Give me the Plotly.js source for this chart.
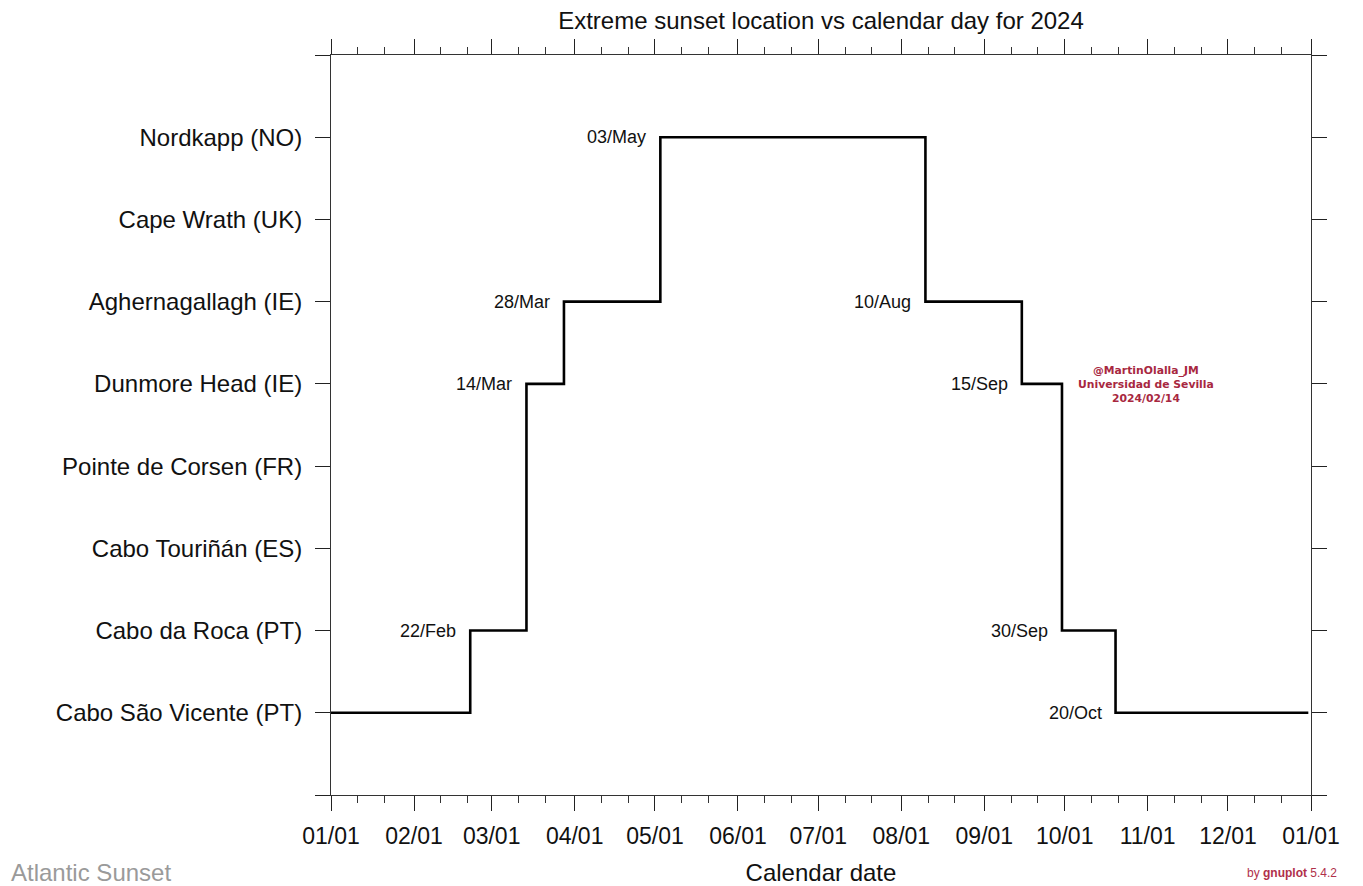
<!DOCTYPE html>
<html>
<head>
<meta charset="utf-8">
<script src="https://cdn.plot.ly/plotly-3.0.1.min.js"></script>
<style>html,body{margin:0;padding:0;background:#fff;}#chart{width:1363px;height:886px;}</style>
</head>
<body>
<div id="chart"></div>
<script>
// Locations (y categories, bottom to top)
var locations = ["Cabo São Vicente (PT)", "Cabo da Roca (PT)", "Cabo Touriñán (ES)", "Pointe de Corsen (FR)",
                 "Dunmore Head (IE)", "Aghernagallagh (IE)", "Cape Wrath (UK)", "Nordkapp (NO)"];
// Step series: date where the extreme location changes, and the new location index
var stepDates  = ["2024-01-01", "2024-02-22", "2024-03-14", "2024-03-28", "2024-05-03",
                  "2024-08-10", "2024-09-15", "2024-09-30", "2024-10-20", "2024-12-31"];
var stepLevels = [0, 1, 4, 5, 7, 5, 4, 1, 0, 0];
var stepLabels = ["", "22/Feb", "14/Mar", "28/Mar", "03/May", "10/Aug", "15/Sep", "30/Sep", "20/Oct", ""];
// X axis ticks
var monthTicks = ["2024-01-01","2024-02-01","2024-03-01","2024-04-01","2024-05-01","2024-06-01","2024-07-01",
                  "2024-08-01","2024-09-01","2024-10-01","2024-11-01","2024-12-01","2025-01-01"];
var monthLabels = ["01/01","02/01","03/01","04/01","05/01","06/01","07/01","08/01","09/01","10/01","11/01","12/01","01/01"];
var minorTicks = ["2024-01-11","2024-01-21","2024-02-11","2024-02-21","2024-03-11","2024-03-21","2024-04-11","2024-04-21",
                  "2024-05-11","2024-05-21","2024-06-11","2024-06-21","2024-07-11","2024-07-21","2024-08-11","2024-08-21",
                  "2024-09-11","2024-09-21","2024-10-11","2024-10-21","2024-11-11","2024-11-21","2024-12-11","2024-12-21"];

var FONT = "Liberation Sans, Arial, Helvetica, sans-serif";

var yTickVals = [-1];
var yTickText = [""];
for (var i = 0; i < locations.length; i++) { yTickVals.push(i); yTickText.push(locations[i]); }
yTickVals.push(locations.length); yTickText.push("");

var trace = {
  x: stepDates, y: stepLevels, type: "scatter", mode: "lines",
  line: {shape: "hv", color: "#000", width: 2.6},
  hoverinfo: "skip", showlegend: false
};

var annotations = [];
for (var k = 0; k < stepDates.length; k++) {
  if (!stepLabels[k]) continue;
  annotations.push({
    x: stepDates[k], y: stepLevels[k], xref: "x", yref: "y",
    text: stepLabels[k], showarrow: false, xanchor: "right", yanchor: "middle",
    xshift: -12, font: {family: FONT, size: 18, color: "#111"}
  });
}
annotations.push({
  xref: "paper", yref: "paper", x: 0.8316, y: 0.555, xanchor: "center", yanchor: "middle",
  text: "@MartinOlalla_JM<br>Universidad de Sevilla<br>2024/02/14", showarrow: false,
  font: {family: "DejaVu Sans, sans-serif", size: 10.8, color: "#a8283f", weight: "bold"}
});
annotations.push({
  xref: "paper", yref: "paper", x: -0.3286, y: -0.1054, xanchor: "left", yanchor: "middle",
  text: "Atlantic Sunset", showarrow: false, font: {family: FONT, size: 24, color: "#9a9a9a"}
});
annotations.push({
  xref: "paper", yref: "paper", x: 1.0286, y: -0.1054, xanchor: "right", yanchor: "middle",
  text: "by <b>gnuplot</b> 5.4.2", showarrow: false, font: {family: FONT, size: 12, color: "#b0304a"}
});

var layout = {
  width: 1363, height: 886,
  margin: {l: 331, r: 52, t: 55, b: 91, pad: 0},
  paper_bgcolor: "#fff", plot_bgcolor: "#fff",
  font: {family: FONT, color: "#111"},
  title: {text: "Extreme sunset location vs calendar day for 2024", xref: "paper", x: 0.5, xanchor: "center",
          yref: "container", y: 0.977, yanchor: "middle", font: {family: FONT, size: 24, color: "#111"}},
  xaxis: {
    type: "date", range: ["2024-01-01", "2025-01-01"], fixedrange: true,
    tickmode: "array", tickvals: monthTicks, ticktext: monthLabels,
    ticks: "outside", ticklen: 15, tickwidth: 1, tickcolor: "#222",
    showline: true, linecolor: "#333", linewidth: 1, mirror: "allticks",
    showgrid: false, zeroline: false, ticklabelstandoff: 5,
    tickfont: {family: FONT, size: 23, color: "#111"},
    minor: {tickmode: "array", tickvals: minorTicks, ticks: "outside", ticklen: 7, tickwidth: 1, tickcolor: "#333", showgrid: false},
    title: {text: "Calendar date", font: {family: FONT, size: 24, color: "#111"}, standoff: 16}
  },
  yaxis: {
    range: [-1, 8], fixedrange: true,
    tickmode: "array", tickvals: yTickVals, ticktext: yTickText,
    ticks: "outside", ticklen: 15, tickwidth: 1, tickcolor: "#222",
    showline: true, linecolor: "#333", linewidth: 1, mirror: "allticks",
    showgrid: false, zeroline: false, ticklabelstandoff: 8,
    tickfont: {family: FONT, size: 24, color: "#111"}
  },
  annotations: annotations,
  showlegend: false
};

Plotly.newPlot("chart", [trace], layout, {displayModeBar: false, staticPlot: true});
</script>
</body>
</html>
